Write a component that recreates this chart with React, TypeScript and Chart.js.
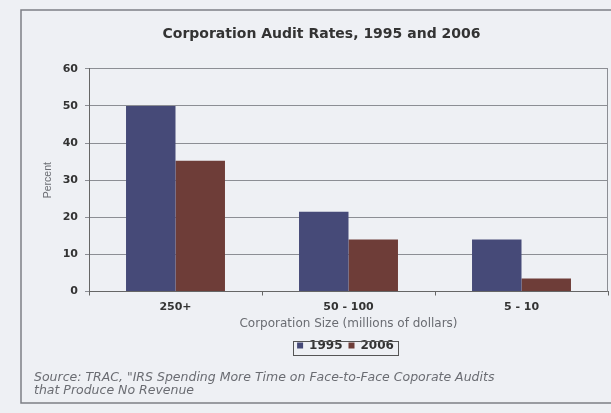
import React, { useEffect, useRef } from "react";
import { Chart, registerables } from "chart.js";

Chart.register(...registerables);

const categories = ["250+", "50 - 100", "5 - 10"];
const values1995 = [50, 21.5, 14];
const values2006 = [35.2, 14, 3.5];
const yTicks = [0, 10, 20, 30, 40, 50, 60];
const titleText = "Corporation Audit Rates, 1995 and 2006";
const xTitle = "Corporation Size (millions of dollars)";
const yTitle = "Percent";
const sourceLines = [
  "Source: TRAC, \"IRS Spending More Time on Face-to-Face Coporate Audits",
  "that Produce No Revenue",
];

const BG = "#eef0f4";
const FONT = "'DejaVu Sans', Verdana, sans-serif";
const FONT_NARROW = "'Liberation Sans Narrow', 'Liberation Sans', Arial, sans-serif";

const decorPlugin = {
  id: "decor",
  afterLayout(chart: any) {
    const lg = chart.legend;
    if (lg) {
      const a = chart.chartArea;
      const want = (a.left + a.right) / 2 - 3;
      const cur = (lg.left + lg.right) / 2;
      const d = want - cur;
      lg.left += d;
      lg.right += d;
    }
  },
  beforeDraw(chart: any) {
    const ctx = chart.ctx;
    ctx.save();
    ctx.fillStyle = BG;
    ctx.fillRect(0, 0, chart.width, chart.height);
    ctx.strokeStyle = "#7d7f85";
    ctx.lineWidth = 1.5;
    ctx.strokeRect(21, 10, 700, 393);
    ctx.restore();
  },
  afterDraw(chart: any) {
    const ctx = chart.ctx;
    const a = chart.chartArea;
    ctx.save();
    ctx.strokeStyle = "#8c8e94";
    ctx.lineWidth = 1;
    ctx.beginPath();
    ctx.moveTo(Math.round(a.right) - 0.5, a.top);
    ctx.lineTo(Math.round(a.right) - 0.5, a.bottom);
    ctx.stroke();
    const lg = chart.legend;
    if (lg && lg.lineWidths && lg.lineWidths.length) {
      const w = lg.lineWidths[0] + 2;
      const cx = (lg.left + lg.right) / 2;
      const cy = (lg.top + lg.bottom) / 2;
      ctx.strokeStyle = "#555";
      ctx.strokeRect(Math.round(cx - w / 2) + 0.5, Math.round(cy - 7) + 0.5, Math.round(w), 14);
    }
    ctx.fillStyle = "#6a6c72";
    ctx.font = `oblique 12.5px ${FONT}`;
    ctx.textBaseline = "middle";
    ctx.textAlign = "left";
    ctx.fillText(sourceLines[0], 34, 378);
    ctx.fillText(sourceLines[1], 34, 391);
    ctx.restore();
  },
};

export default function App() {
  const ref = useRef<HTMLCanvasElement | null>(null);
  useEffect(() => {
    if (!ref.current) return;
    const chart = new Chart(ref.current, {
      type: "bar",
      data: {
        labels: categories,
        datasets: [
          {
            label: "1995",
            data: values1995,
            backgroundColor: "#464a78",
            borderWidth: 0,
          },
          {
            label: "2006",
            data: values2006,
            backgroundColor: "#6e3d38",
            borderWidth: 0,
          },
        ],
      },
      options: {
        responsive: false,
        animation: false,
        devicePixelRatio: 1,
        layout: { padding: { left: 35, right: 3, top: 26, bottom: 51.5 } },
        datasets: {
          bar: { barPercentage: 1, categoryPercentage: 0.572 },
        },
        plugins: {
          title: {
            display: true,
            text: titleText,
            color: "#333",
            font: { family: FONT, size: 14, weight: "bold" },
            padding: { top: 0, bottom: 26 },
          },
          legend: {
            display: true,
            position: "bottom",
            labels: {
              boxWidth: 6,
              boxHeight: 6,
              padding: 6,
              color: "#333",
              font: { family: FONT, size: 12, weight: "bold" },
            },
          },
          tooltip: { enabled: false },
        },
        scales: {
          x: {
            grid: {
              display: true,
              drawOnChartArea: false,
              drawTicks: true,
              tickLength: 4,
              color: "#666",
            },
            border: { display: true, color: "#666", width: 1 },
            ticks: {
              color: "#333",
              padding: 6,
              font: { family: FONT, size: 11, weight: "bold", lineHeight: 1 },
            },
            title: {
              display: true,
              text: xTitle,
              color: "#6a6c72",
              font: { family: FONT, size: 12, lineHeight: 0.75 },
              padding: { top: 0.5, bottom: 5.5 },
            },
          },
          y: {
            min: 0,
            max: 60,
            afterBuildTicks: (s: any) => {
              s.ticks = yTicks.map((v) => ({ value: v }));
            },
            afterFit: (s: any) => {
              s.width = 54;
            },
            grid: {
              color: "#8c8e94",
              tickLength: 4,
              drawTicks: true,
            },
            border: { display: true, color: "#666", width: 1 },
            ticks: {
              color: "#333",
              padding: 7,
              font: { family: FONT, size: 11, weight: "bold" },
            },
            title: {
              display: true,
              text: yTitle,
              color: "#6a6c72",
              font: { family: FONT_NARROW, size: 10.5 },
              padding: { top: 6.8, bottom: 4 },
            },
          },
        },
      },
      plugins: [decorPlugin],
    });
    return () => chart.destroy();
  }, []);
  return (
    <div style={{ position: "absolute", left: 0, top: 0, width: 611, height: 413 }}>
      <canvas ref={ref} width={611} height={413} style={{ display: "block" }} />
    </div>
  );
}
